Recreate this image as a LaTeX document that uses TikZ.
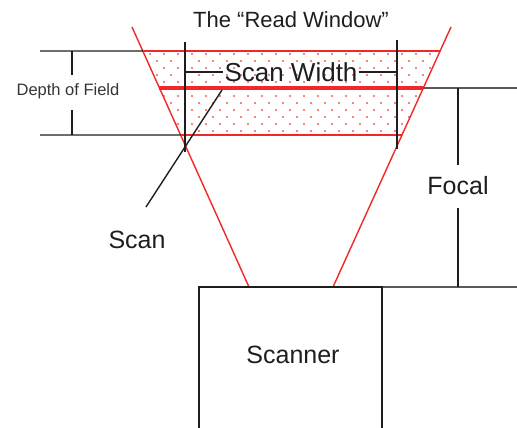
\documentclass[tikz,border=0pt]{standalone}
\usepackage{fontspec}
\setmainfont{Liberation Sans}
\usetikzlibrary{calc}
\definecolor{beamred}{RGB}{240,40,40}
\definecolor{dotred}{RGB}{240,90,90}
\definecolor{ink}{RGB}{30,30,30}
\definecolor{gline}{RGB}{90,90,90}
\begin{document}
\begin{tikzpicture}[x=1pt,y=-1pt,
  beam/.style={draw=beamred,line width=1.4pt},
  blk/.style={draw=ink,line width=1.4pt},
  gry/.style={draw=gline,line width=1.4pt},
  bigtxt/.style={font=\fontsize{25}{30}\selectfont,text=ink,inner sep=0pt},
  swtxt/.style={font=\fontsize{26}{30}\selectfont,text=ink,inner sep=0pt},
  midtxt/.style={font=\fontsize{22}{26}\selectfont,text=ink,inner sep=0pt},
  smalltxt/.style={font=\fontsize{16.5}{20}\selectfont,text=ink!90,inner sep=0pt}]
\useasboundingbox (0,0) rectangle (517,428);
% beam end points
\coordinate (lt) at (132,27);
\coordinate (lb) at (249,287);
\coordinate (rt) at (451,27);
\coordinate (rb) at (333,287);
\coordinate (l1) at ($(lt)!0.0923!(lb)$);
\coordinate (r1) at ($(rt)!0.0923!(rb)$);
\coordinate (l2) at ($(lt)!0.2346!(lb)$);
\coordinate (r2) at ($(rt)!0.2346!(rb)$);
\coordinate (l3) at ($(lt)!0.4154!(lb)$);
\coordinate (r3) at ($(rt)!0.4154!(rb)$);
% dotted read window
\begin{scope}
  \clip (l1) -- (r1) -- (r3) -- (l3) -- cycle;
  \foreach \j in {0,...,12} {
    \pgfmathsetmacro{\yy}{54+7*\j}
    \pgfmathsetmacro{\off}{mod(\j,2)*7}
    \foreach \i in {0,...,22} {
      \fill[dotred] ({136+\off+14*\i},\yy) circle (1.1);
    }
  }
\end{scope}
% window lines
\draw[beam] (l1) -- (r1);
\draw[beam] (l3) -- (r3);
\draw[draw=beamred,line width=3.2pt] (l2) -- (r2);
% beam
\draw[beam] (lt) -- (lb);
\draw[beam] (rt) -- (rb);
% depth of field
\coordinate (d1) at (40,51);
\coordinate (d2) at (40,135);
\draw[blk] (d1) -- (l1);
\draw[blk] (d2) -- (l3);
\node[smalltxt] (dof) at (68,91) {Depth of Field};
\coordinate (dv1) at (72,51);
\coordinate (dv2) at (72,75);
\coordinate (dv3) at (72,110);
\coordinate (dv4) at (72,135);
\draw[blk] (dv1) -- (dv2);
\draw[blk] (dv3) -- (dv4);
% scan width
\coordinate (vl1) at (185,42);
\coordinate (vl2) at (185,152);
\coordinate (vr1) at (397,40);
\coordinate (vr2) at (397,149);
\draw[blk] (vl1) -- (vl2);
\draw[blk] (vr1) -- (vr2);
\node[swtxt] (sw) at (291,72) {Scan Width};
\coordinate (swl) at (185,72);
\coordinate (swr) at (397,72);
\draw[blk] (swl) -- ($(sw.west)+(-1,0)$);
\draw[blk] ($(sw.east)+(1,0)$) -- (swr);
% title
\node[midtxt] (title) at (291,20) {The “Read Window”};
% scan pointer
\coordinate (sp1) at (222,90);
\coordinate (sp2) at (146,207);
\draw[blk] (sp1) -- (sp2);
\node[bigtxt] (scan) at (137,240) {Scan};
% focal
\coordinate (f1) at (423,88);
\coordinate (f2) at (517,88);
\coordinate (f3) at (382,287);
\coordinate (f4) at (517,287);
\draw[gry] (f1) -- (f2);
\draw[gry] (f3) -- (f4);
\node[bigtxt] (focal) at (458,186) {Focal};
\coordinate (fv1) at (458,88);
\coordinate (fv2) at (458,165);
\coordinate (fv3) at (458,208);
\coordinate (fv4) at (458,287);
\draw[blk] (fv1) -- (fv2);
\draw[blk] (fv3) -- (fv4);
% scanner
\draw[draw=ink,line width=1.8pt] (199,430) -- (199,287) -- (382,287) -- (382,430);
\node[bigtxt] (scanner) at (293,355) {Scanner};
\end{tikzpicture}
\end{document}
